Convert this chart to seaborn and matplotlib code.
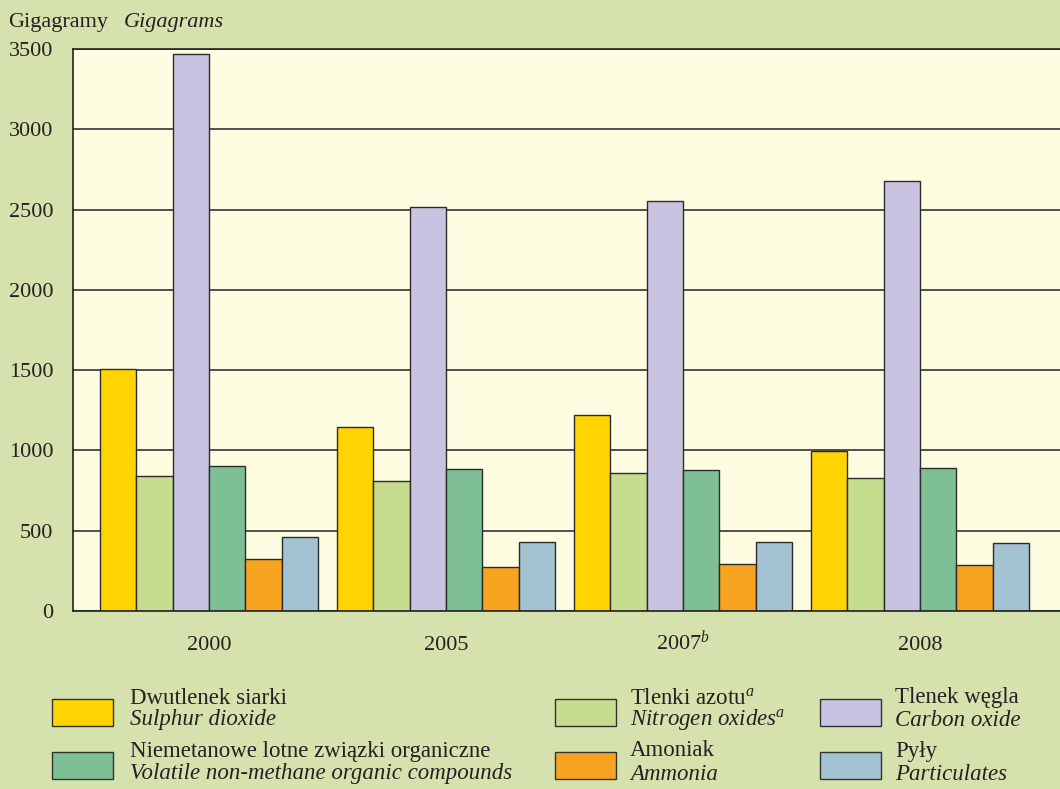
import matplotlib
matplotlib.use("Agg")
import matplotlib.pyplot as plt
from matplotlib.patches import Rectangle
import seaborn as sns
import pandas as pd

# Emisja zanieczyszczeń powietrza (Gg)
years = ["2000", "2005", "2007", "2008"]
year_labels = ["2000", "2005", "2007$^{b}$", "2008"]
pollutants_pl = ["Dwutlenek siarki", "Tlenki azotu$^{a}$", "Tlenek węgla",
                 "Niemetanowe lotne związki organiczne", "Amoniak", "Pyły"]
pollutants_en = ["Sulphur dioxide", "Nitrogen oxides$^{a}$", "Carbon oxide",
                 "Volatile non-methane organic compounds", "Ammonia", "Particulates"]
sulphur = [1507, 1146, 1220, 996]
nitrogen = [841, 810, 859, 828]
carbon = [3468, 2516, 2553, 2677]
nmvoc = [903, 884, 878, 890]
ammonia = [324, 274, 293, 286]
particulates = [461, 430, 430, 423]
colors = ["#ffd400", "#c6dc8e", "#c7c3e1", "#7fbf95", "#f6a31f", "#a3c2d2"]

series = [sulphur, nitrogen, carbon, nmvoc, ammonia, particulates]
rows = []
for name, vals in zip(pollutants_pl, series):
    for y, v in zip(years, vals):
        rows.append({"Rok": y, "Zanieczyszczenie": name, "Gg": v})
df = pd.DataFrame(rows)

sns.set_theme(style="white")
plt.rcParams.update({
    "font.family": ["Liberation Serif", "DejaVu Serif"],
    "mathtext.fontset": "custom",
    "mathtext.rm": "Liberation Serif",
    "mathtext.it": "Liberation Serif:italic",
    "font.size": 16,
})

bg = "#d5e2ad"
txt = "#222222"
fig = plt.figure(figsize=(10.6, 7.89), dpi=100, facecolor=bg)
ax = fig.add_axes([73 / 1060, 1 - 611 / 789, 1 - 73 / 1060, (611 - 49) / 789])
ax.set_facecolor("#fffde1")

sns.barplot(data=df, x="Rok", y="Gg", hue="Zanieczyszczenie", palette=colors,
            saturation=1, width=0.92, edgecolor="#2b2b2b", linewidth=1.0,
            legend=False, ax=ax)

ax.set_ylim(0, 3500)
ax.set_xlim(-0.574, 3.59)
ax.set_yticks(range(0, 3501, 500))
ax.set_xticks(range(len(years)))
ax.set_xticklabels(year_labels, va="baseline")
ax.tick_params(axis="both", length=0, labelsize=16, colors=txt)
ax.tick_params(axis="y", pad=14)
ax.tick_params(axis="x", pad=28)
ax.set_xlabel("")
ax.set_ylabel("")
ax.yaxis.grid(True, color="#333333", linewidth=1.2)
ax.set_axisbelow(True)
for side in ["left", "bottom", "top"]:
    ax.spines[side].set_color(txt)
    ax.spines[side].set_linewidth(1.2)
ax.spines["right"].set_visible(False)

# unit label
fig.text(8 / 1060, 1 - 22 / 789, "Gigagramy", fontsize=16, va="center", color=txt)
fig.text(124 / 1060, 1 - 22 / 789, "Gigagrams", fontsize=16, va="center",
         style="italic", color=txt)

# legend drawn as patches + two-line text (Polish / English italic)
col_patch_x = [52, 555, 820]
col_text_x = [130, 630, 895]
row_patch_y = [699, 752]
row_text_y = [(698, 720), (751, 774)]
for i in range(len(pollutants_pl)):
    r, c = divmod(i, 3)
    px, py = col_patch_x[c], row_patch_y[r]
    fig.patches.append(Rectangle((px / 1060, 1 - (py + 27) / 789), 61 / 1060, 27 / 789,
                                 transform=fig.transFigure, facecolor=colors[i],
                                 edgecolor="#333333", linewidth=1.0))
    fig.text(col_text_x[c] / 1060, 1 - row_text_y[r][0] / 789, pollutants_pl[i],
             fontsize=16.5, va="center", color=txt)
    fig.text(col_text_x[c] / 1060, 1 - row_text_y[r][1] / 789, pollutants_en[i],
             fontsize=16.5, va="center", style="italic", color=txt)

fig.savefig("out.png", dpi=100, facecolor=bg)
